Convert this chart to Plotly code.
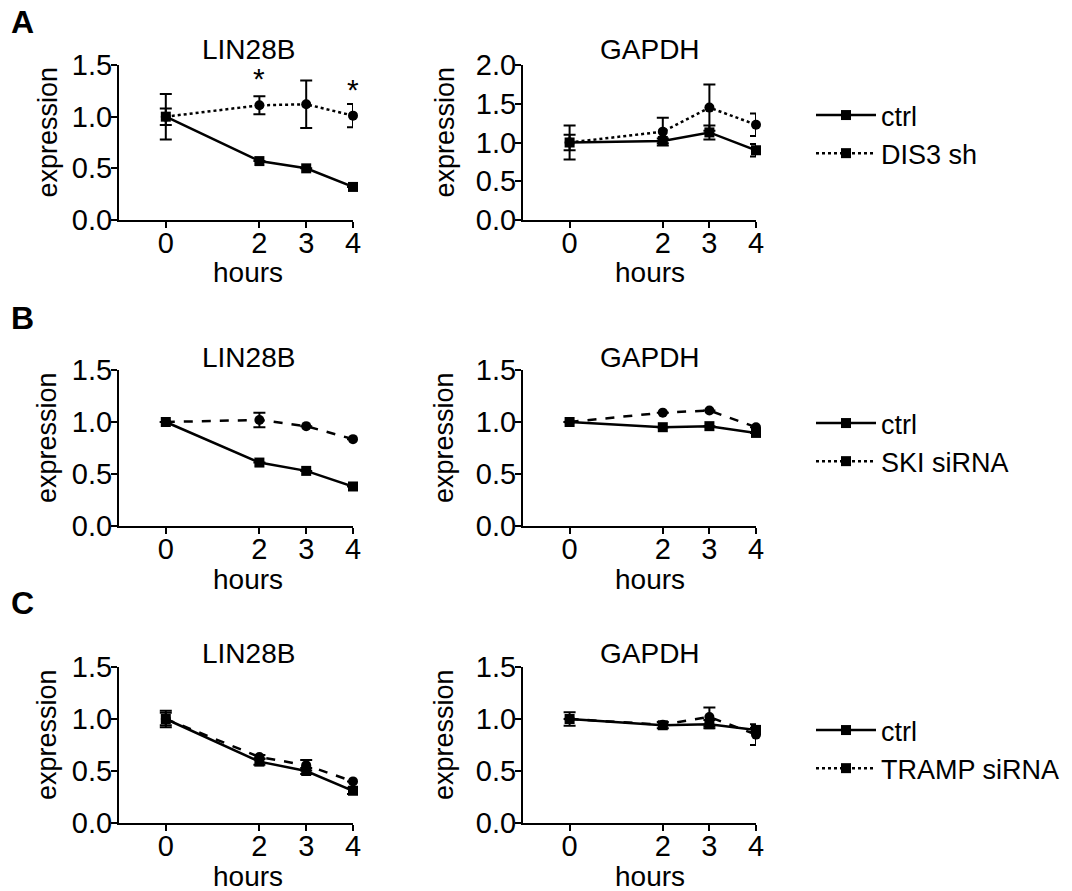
import plotly.graph_objects as go

W, H = 1072, 891
OFF = 8  # default page margin around the plot div
FW, FH = W - OFF, H - OFF
FONT = "Liberation Sans, Arial, sans-serif"

hours = [0, 2, 3, 4]
x_tick_vals = [0, 2, 3, 4]

# Panel A (DIS3 sh)
A_lin_ctrl = [1.0, 0.57, 0.50, 0.32]
A_lin_ctrl_err = [0.08, 0.0, 0.0, 0.0]
A_lin_trt = [1.0, 1.11, 1.12, 1.01]
A_lin_trt_err = [0.22, 0.087, 0.23, 0.113]
A_gap_ctrl = [1.0, 1.02, 1.13, 0.90]
A_gap_ctrl_err = [0.10, 0.03, 0.09, 0.08]
A_gap_trt = [1.0, 1.14, 1.45, 1.23]
A_gap_trt_err = [0.22, 0.18, 0.30, 0.145]

# Panel B (SKI siRNA)
B_lin_ctrl = [1.0, 0.61, 0.53, 0.38]
B_lin_ctrl_err = [0.0, 0.0, 0.0, 0.0]
B_lin_trt = [1.0, 1.02, 0.96, 0.835]
B_lin_trt_err = [0.0, 0.07, 0.0, 0.0]
B_gap_ctrl = [1.0, 0.95, 0.96, 0.895]
B_gap_ctrl_err = [0.0, 0.0, 0.0, 0.0]
B_gap_trt = [1.0, 1.09, 1.11, 0.95]
B_gap_trt_err = [0.0, 0.0, 0.0, 0.0]

# Panel C (TRAMP siRNA)
C_lin_ctrl = [1.0, 0.59, 0.50, 0.31]
C_lin_ctrl_err = [0.08, 0.03, 0.03, 0.03]
C_lin_trt = [1.0, 0.635, 0.555, 0.40]
C_lin_trt_err = [0.06, 0.02, 0.05, 0.0]
C_gap_ctrl = [1.0, 0.94, 0.95, 0.895]
C_gap_ctrl_err = [0.065, 0.03, 0.04, 0.02]
C_gap_trt = [1.0, 0.945, 1.02, 0.85]
C_gap_trt_err = [0.0, 0.0, 0.09, 0.10]

treatments = ["DIS3 sh", "SKI siRNA", "TRAMP siRNA"]
dashes = ["dot", "dash", "dash"]
panel_letters = ["A", "B", "C"]
genes = ["LIN28B", "GAPDH"]

panels = [
    [(A_lin_ctrl, A_lin_ctrl_err, A_lin_trt, A_lin_trt_err, 1.5),
     (A_gap_ctrl, A_gap_ctrl_err, A_gap_trt, A_gap_trt_err, 2.0)],
    [(B_lin_ctrl, B_lin_ctrl_err, B_lin_trt, B_lin_trt_err, 1.5),
     (B_gap_ctrl, B_gap_ctrl_err, B_gap_trt, B_gap_trt_err, 1.5)],
    [(C_lin_ctrl, C_lin_ctrl_err, C_lin_trt, C_lin_trt_err, 1.5),
     (C_gap_ctrl, C_gap_ctrl_err, C_gap_trt, C_gap_trt_err, 1.5)],
]

# significance stars (panel A, LIN28B)
star_x = [2, 4]
star_y = [1.37, 1.265]

# layout geometry in window pixels
row_y = [(65, 220), (370, 526), (667, 823)]
col_x = [(119, 353), (523, 756)]
title_y = [50, 357, 653]
letter_y = [22, 318, 603]
title_x = [248, 650]
ylab_x = [47, 444]
legend_top = [91, 399, 706]


def px(a):
    return (a - OFF) / FW


def py(b):
    return 1 - (b - OFF) / FH


fig = go.Figure()
annotations = []
tick_font = dict(family=FONT, size=29, color="black")
text_font = dict(family=FONT, size=28, color="black")

k = 0
for r in range(3):
    for c in range(2):
        k += 1
        xa = "x" if k == 1 else f"x{k}"
        ya = "y" if k == 1 else f"y{k}"
        ctrl, ctrl_err, trt, trt_err, ymax = panels[r][c]
        fig.add_trace(go.Scatter(
            x=hours, y=trt, mode="lines+markers", xaxis=xa, yaxis=ya,
            line=dict(color="black", width=2.5, dash=dashes[r]),
            marker=dict(symbol="circle", size=10, color="black"),
            error_y=dict(type="data", array=trt_err, color="black", thickness=2, width=6),
            cliponaxis=False, showlegend=False))
        fig.add_trace(go.Scatter(
            x=hours, y=ctrl, mode="lines+markers", xaxis=xa, yaxis=ya,
            line=dict(color="black", width=2.5),
            marker=dict(symbol="square", size=10, color="black"),
            error_y=dict(type="data", array=ctrl_err, color="black", thickness=2, width=6),
            cliponaxis=False, showlegend=False))
        ax_common = dict(showline=True, linewidth=2, linecolor="black", ticks="outside",
                         ticklen=6, tickwidth=2, tickcolor="black", showgrid=False,
                         zeroline=False, tickfont=tick_font, automargin=False)
        fig.update_layout(**{
            ("xaxis" if k == 1 else f"xaxis{k}"): dict(
                domain=[px(col_x[c][0]), px(col_x[c][1])], range=[-1, 4], anchor=ya,
                tickvals=x_tick_vals, ticklabelstandoff=-10, **ax_common),
            ("yaxis" if k == 1 else f"yaxis{k}"): dict(
                domain=[py(row_y[r][1]), py(row_y[r][0])], range=[0, ymax], anchor=xa,
                dtick=0.5, tickformat=".1f", ticklabelstandoff=-7, **ax_common),
        })
        annotations.append(dict(text=genes[c], x=px(title_x[c]), y=py(title_y[r]),
                                xref="paper", yref="paper", showarrow=False,
                                xanchor="center", yanchor="middle", font=text_font))
        annotations.append(dict(text="hours", x=px(title_x[c]), y=py(row_y[r][1] + 53),
                                xref="paper", yref="paper", showarrow=False,
                                xanchor="center", yanchor="middle", font=text_font))
        annotations.append(dict(text="expression", x=px(ylab_x[c]),
                                y=py((row_y[r][0] + row_y[r][1]) / 2 - 10),
                                xref="paper", yref="paper", showarrow=False,
                                textangle=-90, xanchor="center", yanchor="middle",
                                font=dict(family=FONT, size=27, color="black")))
        if r == 0 and c == 0:
            for sx, sy in zip(star_x, star_y):
                annotations.append(dict(text="*", x=sx, y=sy, xref=xa, yref=ya,
                                        showarrow=False, xanchor="center", yanchor="middle",
                                        font=dict(family=FONT, size=30, color="black")))
    annotations.append(dict(text="<b>" + panel_letters[r] + "</b>", x=px(9),
                            y=py(letter_y[r]), xref="paper", yref="paper",
                            showarrow=False, xanchor="left", yanchor="middle",
                            font=dict(family=FONT, size=32, color="black")))

# legends (one per row)
for r in range(3):
    lg = "legend" if r == 0 else f"legend{r + 1}"
    xa = "x" if r == 0 else f"x{2 * r + 1}"
    ya = "y" if r == 0 else f"y{2 * r + 1}"
    fig.add_trace(go.Scatter(
        x=[None], y=[None], mode="lines+markers", name="ctrl", legend=lg,
        xaxis=xa, yaxis=ya, line=dict(color="black", width=2.5),
        marker=dict(symbol="square", size=10, color="black")))
    fig.add_trace(go.Scatter(
        x=[None], y=[None], mode="lines+markers", name=treatments[r], legend=lg,
        xaxis=xa, yaxis=ya, line=dict(color="black", width=2.5, dash="dot"),
        marker=dict(symbol="square", size=10, color="black")))
    fig.update_layout(**{lg: dict(
        x=px(811), y=py(legend_top[r]), xanchor="left", yanchor="top",
        bgcolor="rgba(0,0,0,0)", borderwidth=0, itemwidth=60,
        font=dict(family=FONT, size=27, color="black"), tracegroupgap=0)})

fig.update_layout(
    template="none",
    width=FW, height=FH, margin=dict(l=0, r=0, t=0, b=0, autoexpand=False),
    paper_bgcolor="white", plot_bgcolor="white",
    annotations=annotations, font=dict(family=FONT, color="black"),
)

fig.write_html("out.html")
